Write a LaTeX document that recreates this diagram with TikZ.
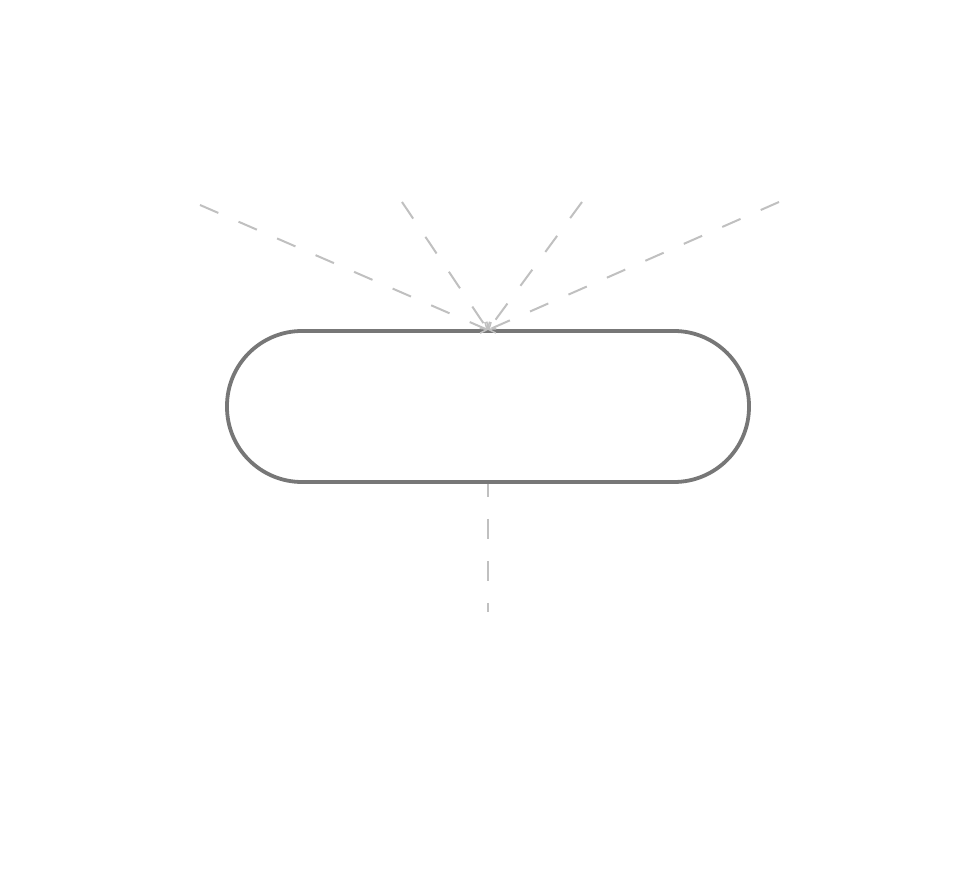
\documentclass[tikz,border=0pt]{standalone}
\usetikzlibrary{arrows.meta}
\definecolor{boxgray}{HTML}{777777}
\definecolor{dashgray}{HTML}{C0C0C0}
\tikzset{
  pill/.style={draw=boxgray, line width=3.8pt, rounded corners=75pt, minimum width=522pt, minimum height=151pt, inner sep=0pt, fill=white},
  conn/.style={draw=dashgray, line width=2pt, dash pattern=on 20pt off 22pt},
  tipconn/.style={conn, -{Straight Barb[length=5pt,width=12pt,line width=1.5pt]}}
}
\begin{document}
\begin{tikzpicture}[x=1pt,y=1pt]
\useasboundingbox (0,0) rectangle (977,872);
\node[pill] (p) at (488,465.5) {};
\coordinate (a) at (200,667);
\coordinate (b) at (402,670);
\coordinate (c) at (582,670);
\coordinate (d) at (779,670);
\coordinate (e) at (488,260);
\coordinate (t) at (488,542);
\draw[tipconn] (a) -- (t);
\draw[tipconn] (b) -- (t);
\draw[tipconn] (c) -- (t);
\draw[tipconn] (d) -- (t);
\draw[conn, dash phase=7pt] (p.south) -- (e);
\end{tikzpicture}
\end{document}
